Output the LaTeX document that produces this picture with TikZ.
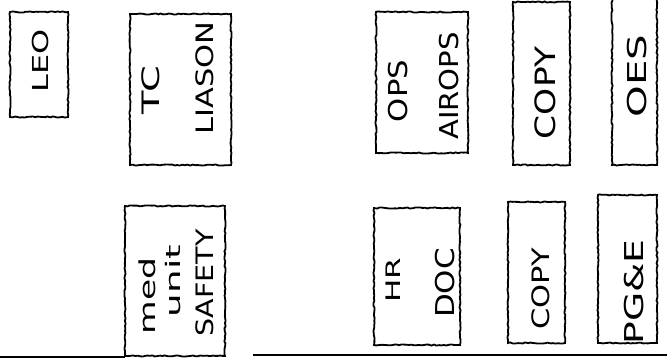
\documentclass[tikz,border=0pt]{standalone}
\usepackage{fontspec}
\setmainfont{DejaVu Sans}
\usepackage{graphicx}
\usetikzlibrary{decorations.pathmorphing}
\newcommand\hw[3]{\scalebox{#1}[1]{\fontsize{#2}{#2}\selectfont #3}}
\tikzset{
  sk/.style={line width=1.8pt, draw=black, decorate,
    decoration={random steps, segment length=2.5pt, amplitude=0.6pt}},
  box/.style={sk, rectangle, inner sep=0pt, outer sep=0pt},
  txt/.style={rotate=90, inner sep=0pt, text=black},
  baseline/.style={line width=1.6pt, draw=black}
}
\begin{document}
\begin{tikzpicture}[x=1pt,y=-1pt]
\useasboundingbox[fill=white] (0,0) rectangle (667,359);
% top row boxes
\node[box, minimum width=58pt, minimum height=105pt] (bleo) at (39,64.5) {};
\node[box, minimum width=101pt, minimum height=151pt] (btc) at (180.5,89.5) {};
\node[box, minimum width=92pt, minimum height=141pt] (bops) at (422,82.5) {};
\node[box, minimum width=57pt, minimum height=163pt] (bcopy1) at (541.5,83.5) {};
\node[box, minimum width=45pt, minimum height=195pt] (boes) at (634.5,67.5) {};
% bottom row boxes
\node[box, minimum width=100pt, minimum height=150pt] (bmed) at (175,281) {};
\node[box, minimum width=86pt, minimum height=137pt] (bhr) at (417,276.5) {};
\node[box, minimum width=57pt, minimum height=141pt] (bcopy2) at (536.5,272.5) {};
\node[box, minimum width=59pt, minimum height=148pt] (bpge) at (627.5,269) {};
% texts
\node[txt] (tleo) at (40,61) {\hw{1.45}{22}{LEO}};
\node[txt] (ttc) at (151,90) {\hw{1.6}{24}{TC}};
\node[txt] (tlia) at (205,78) {\hw{1.27}{24}{LIASON}};
\node[txt] (tops) at (398,91) {\hw{1.18}{26}{OPS}};
\node[txt] (tair) at (449,86) {\hw{1.12}{26}{AIROPS}};
\node[txt] (tcopy1) at (545,93) {\hw{1.23}{28}{COPY}};
\node[txt] (toes) at (637,76) {\hw{1.55}{26}{OES}};
\node[txt] (tmed) at (147,296) {\hw{1.57}{22}{med}};
\node[txt] (tunit) at (173,281) {\hw{1.86}{20}{unit}};
\node[txt] (tsaf) at (205,283) {\hw{1.19}{24}{SAFETY}};
\node[txt] (thr) at (393,280) {\hw{1.55}{20}{HR}};
\node[txt] (tdoc) at (445,283) {\hw{1.19}{26}{DOC}};
\node[txt] (tcopy2) at (541,289) {\hw{1.27}{24}{COPY}};
\node[txt] (tpge) at (634,292) {\hw{1.45}{26}{PG\&E}};
% floor line
\coordinate (f0) at (0,357);
\coordinate (f1) at (125,357);
\coordinate (f2) at (253,355);
\coordinate (f3) at (667,355);
\draw[baseline] (f0) -- (f1);
\draw[baseline] (f2) -- (f3);
\end{tikzpicture}
\end{document}
